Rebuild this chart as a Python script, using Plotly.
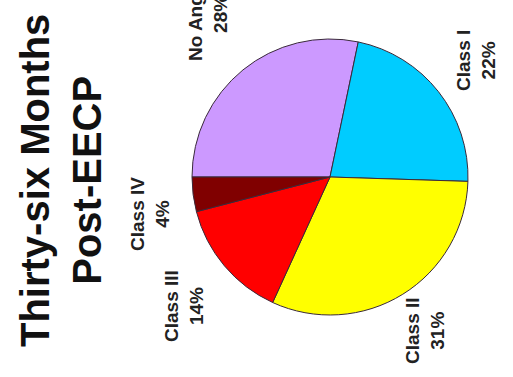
import plotly.graph_objects as go

# Angina class distribution, 36 months after EECP
categories = ["No Angina", "Class I", "Class II", "Class III", "Class IV"]
percents = [28, 22, 31, 14, 4]
colors = ["#CC99FF", "#00CCFF", "#FFFF00", "#FF0000", "#800000"]

title_lines = ["Thirty-six Months", "Post-EECP"]

W, H = 513, 377
FONT = "Liberation Sans, Arial, sans-serif"


def px(x, y):
    return x / W, 1 - y / H


# pie placement (pixel centre and diameter)
cx, cy, d = 330, 177, 276

fig = go.Figure(
    go.Pie(
        labels=categories,
        values=percents,
        marker=dict(colors=colors, line=dict(color="#3a2a3a", width=1)),
        sort=False,
        direction="clockwise",
        rotation=-90,
        textinfo="none",
        hoverinfo="label+percent",
        showlegend=False,
        domain=dict(
            x=[(cx - d / 2) / W, (cx + d / 2) / W],
            y=[1 - (cy + d / 2) / H, 1 - (cy - d / 2) / H],
        ),
    )
)

annotations = []

# rotated title
tx, ty = px(61, 181)
annotations.append(dict(
    x=tx, y=ty, xref="paper", yref="paper",
    text="<b>" + "<br>".join(title_lines) + "</b>", textangle=-90, showarrow=False,
    xanchor="center", yanchor="middle",
    font=dict(family=FONT, size=40, color="#111111"),
))

# rotated slice labels
label_pos = {
    "No Angina": (208, 14),
    "Class I": (476, 61),
    "Class II": (425, 331),
    "Class III": (184, 306),
    "Class IV": (150, 214),
}
for name, val in zip(categories, percents):
    lx, ly = px(*label_pos[name])
    annotations.append(dict(
        x=lx, y=ly, xref="paper", yref="paper",
        text=f"<b>{name}<br>{val}%</b>", textangle=-90, showarrow=False,
        xanchor="center", yanchor="middle",
        font=dict(family=FONT, size=19, color="#222222"),
    ))

fig.update_layout(
    width=W, height=H,
    margin=dict(l=0, r=0, t=0, b=0),
    paper_bgcolor="white", plot_bgcolor="white",
    annotations=annotations,
)

fig.write_html("out.html", include_plotlyjs=True, config={"displayModeBar": False})
